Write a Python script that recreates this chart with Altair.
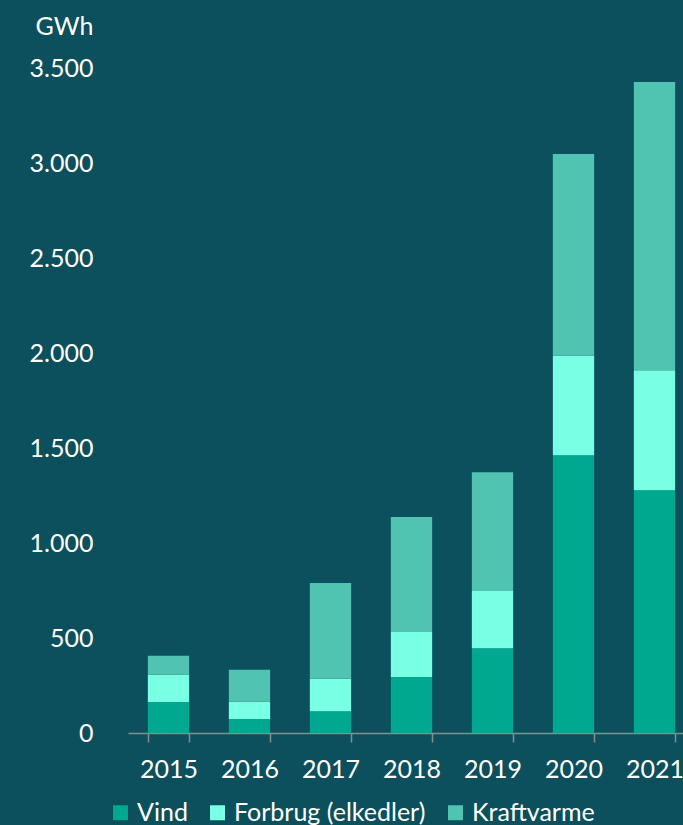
import altair as alt
import pandas as pd

years = ["2015", "2016", "2017", "2018", "2019", "2020", "2021"]
vind = [163, 74, 114, 295, 446, 1462, 1277]
forbrug = [144, 91, 172, 237, 301, 524, 632]
kraftvarme = [100, 168, 503, 605, 625, 1061, 1517]
series = ["Vind", "Forbrug (elkedler)", "Kraftvarme"]
colors = ["#00A88F", "#78FFE4", "#50C4B0"]

rows = []
for i, y in enumerate(years):
    for k, (name, vals) in enumerate(zip(series, [vind, forbrug, kraftvarme])):
        rows.append({"year": y, "serie": name, "value": vals[i], "ord": k})
df = pd.DataFrame(rows)

FONT = "Lato"
BG = "#0B505C"

chart = alt.Chart(df).mark_bar().encode(
    x=alt.X("year:N", sort=years,
            scale=alt.Scale(paddingInner=0.49, paddingOuter=0.245, range=[0, 567]),
            axis=alt.Axis(title=None, labelAngle=0, domainColor="#8C8C8C",
                          tickColor="#8C8C8C", tickSize=9, tickBand="extent",
                          labelFontSize=25, labelColor="white", labelFont=FONT,
                          labelPadding=15, domainWidth=1.5, tickWidth=1.5)),
    y=alt.Y("value:Q", stack="zero",
            scale=alt.Scale(domain=[0, 3500], nice=False),
            axis=alt.Axis(values=[0, 500, 1000, 1500, 2000, 2500, 3000, 3500],
                          labelExpr="replace(format(datum.value, ',d'), ',', '.')",
                          grid=False, domain=False, ticks=False,
                          labelFontSize=25, labelColor="white", labelFont=FONT,
                          labelPadding=35, title="GWh", titleAngle=0,
                          titleAlign="right", titleBaseline="alphabetic",
                          titleX=-35, titleY=-34, titleFontSize=25,
                          titleFontWeight="normal", titleColor="white",
                          titleFont=FONT)),
    color=alt.Color("serie:N", sort=series,
                    scale=alt.Scale(domain=series, range=colors),
                    legend=alt.Legend(title=None, orient="none", direction="horizontal",
                                      legendX=-20, legendY=732,
                                      symbolType="square", symbolSize=225,
                                      symbolStrokeWidth=0,
                                      labelFontSize=25, labelColor="white",
                                      labelFont=FONT, columnPadding=17,
                                      labelOffset=4, labelLimit=400)),
    order=alt.Order("ord:Q", sort="ascending"),
).properties(
    width=555, height=665,
    background=BG,
    padding={"left": 128, "top": 68, "right": 0, "bottom": 92},
    autosize=alt.AutoSizeParams(type="none"),
).configure_view(stroke=None)

chart.save("out.html", embed_options={"renderer": "svg", "actions": False})
